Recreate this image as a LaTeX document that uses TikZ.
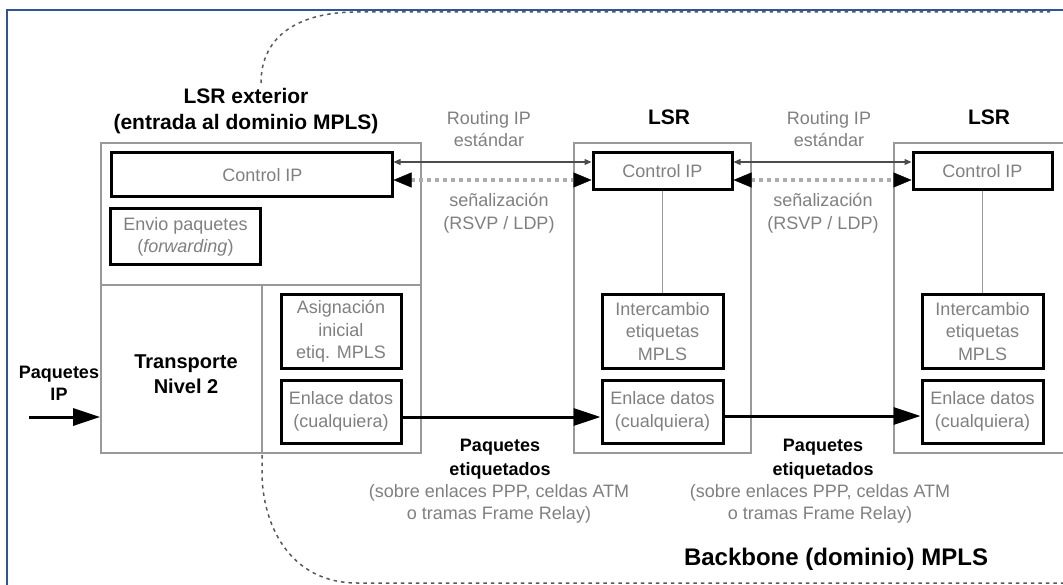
\documentclass[tikz,border=0pt]{standalone}
\usepackage{fontspec}
\setmainfont{Liberation Sans}
\usetikzlibrary{arrows.meta}
\definecolor{framebl}{RGB}{47,85,151}
\definecolor{boxgray}{gray}{0.6}
\definecolor{txtgray}{gray}{0.5}
\definecolor{dashgray}{gray}{0.35}
\definecolor{dotgray}{gray}{0.68}
\newcommand{\fsz}[2]{\fontsize{#1}{#2}\selectfont}

\begin{document}
\begin{tikzpicture}[x=1pt,y=-1pt,
  routerbox/.style={draw=boxgray, line width=1.6pt, inner sep=0pt},
  funcbox/.style={draw=black, line width=3pt, fill=white, text=txtgray,
    font=\fsz{18}{22.5}, align=center, inner sep=0pt},
  titletext/.style={font=\bfseries\fsz{21}{26}, align=center},
  graytext/.style={text=txtgray, font=\fsz{18}{22.5}, align=center},
  boldtext/.style={font=\bfseries\fsz{18}{24}, align=center},
  divider/.style={draw=boxgray, line width=1.6pt},
  datalink/.style={draw=black, line width=3pt, -{Triangle[length=27pt,width=17pt]}},
  routing/.style={draw=black!70, line width=1.2pt,
    {Triangle[length=7pt,width=6pt]}-{Triangle[length=7pt,width=6pt]}},
  signalling/.style={draw=dotgray, line width=4.5pt, dash pattern=on 3.5pt off 4.5pt,
    {Triangle[length=18pt,width=15pt,color=black,line width=0.4pt]}-{Triangle[length=18pt,width=15pt,color=black,line width=0.4pt]}},
  backbone/.style={draw=dashgray, line width=1.5pt, dash pattern=on 3.5pt off 4pt},
  joint/.style={draw=boxgray, line width=1.6pt}
]
\useasboundingbox (0,0) rectangle (1063,585);
\fill[white] (0,0) rectangle (1063,585);
\clip (0,0) rectangle (1063,585);

% page frame
\draw[framebl, line width=2.5pt] (7,600) -- (7,10) -- (1080,10);

% boundary of the MPLS backbone
\draw[backbone] (261,83) .. controls (261,35) and (300,12) .. (357,12) -- (1050,12);
\draw[backbone] (262,455) -- (262,472) .. controls (262,525) and (290,583) .. (357,583) -- (1080,583);

% ingress LSR
\node[routerbox, minimum width=320pt, minimum height=310pt] (lsrA) at (261,298) {};
\draw[divider] (101,285) -- (421,285);
\draw[divider] (262,285) -- (262,453);
\node[funcbox, minimum width=281pt, minimum height=44pt] (cipA) at (251.5,175) {\hspace*{22pt}Control IP};
\node[funcbox, minimum width=150pt, minimum height=56pt] (env) at (185.5,237) {Envio paquetes\\(\textit{forwarding})};
\node[funcbox, minimum width=120pt, minimum height=73pt] (asg) at (341,331.5) {Asignación\\inicial\\etiq. MPLS};
\node[funcbox, minimum width=120pt, minimum height=63pt] (enlA) at (341,411.5) {Enlace datos\\(cualquiera)};
\node[titletext] (ttlA) at (246,111) {LSR exterior\\(entrada al dominio MPLS)};
\node[font=\bfseries\fsz{20}{25}, align=center] (l2) at (186,374) {Transporte\\Nivel 2};

% second LSR
\node[routerbox, minimum width=177pt, minimum height=310pt] (lsrB) at (662.5,298) {};
\node[funcbox, minimum width=139pt, minimum height=37pt] (cipB) at (662.5,171.5) {Control IP};
\node[funcbox, minimum width=121pt, minimum height=73pt] (intB) at (662.5,331.5) {Intercambio\\etiquetas\\MPLS};
\node[funcbox, minimum width=121pt, minimum height=63pt] (enlB) at (662.5,411.5) {Enlace datos\\(cualquiera)};
\node[titletext] (ttlB) at (669,117) {LSR};

% third LSR
\node[routerbox, minimum width=177pt, minimum height=310pt] (lsrC) at (982.5,298) {};
\node[funcbox, minimum width=139pt, minimum height=37pt] (cipC) at (982.5,171.5) {Control IP};
\node[funcbox, minimum width=121pt, minimum height=73pt] (intC) at (982.5,331.5) {Intercambio\\etiquetas\\MPLS};
\node[funcbox, minimum width=121pt, minimum height=63pt] (enlC) at (982.5,411.5) {Enlace datos\\(cualquiera)};
\node[titletext] (ttlC) at (989,117) {LSR};

% control plane to label switching
\draw[joint] (cipB.south) -- (intB.north);
\draw[joint] (cipC.south) -- (intC.north);

% routing and signalling between LSRs
\draw[routing] ([yshift=13pt]cipA.east) -- ([yshift=13pt]cipA.east -| cipB.west);
\draw[signalling] ([yshift=-5pt]cipA.east) -- ([yshift=-5pt]cipA.east -| cipB.west);
\draw[routing] ([yshift=9.5pt]cipB.east) -- ([yshift=9.5pt]cipC.west);
\draw[signalling] ([yshift=-8.5pt]cipB.east) -- ([yshift=-8.5pt]cipC.west);

\node[graytext] (rtA) at (489,129) {Routing IP\\estándar};
\node[graytext] (sgA) at (499,213) {señalización\\(RSVP / LDP)};
\node[graytext] (rtB) at (829,129) {Routing IP\\estándar};
\node[graytext] (sgB) at (823,213) {señalización\\(RSVP / LDP)};

% labelled packet flow
\node[font=\bfseries\fsz{18}{22}, align=center] (inp) at (59,383) {Paquetes\\IP};
\coordinate (src) at (29,417);
\draw[datalink] (src) -- (src -| lsrA.west);
\draw[datalink] ([yshift=-5.5pt]enlA.east) -- ([yshift=-5.5pt]enlA.east -| enlB.west);
\draw[datalink] ([yshift=-4.5pt]enlB.east) -- ([yshift=-4.5pt]enlC.west);

\node[boldtext] (pkA) at (500,459) {Paquetes\\etiquetados};
\node[graytext] (trA) at (499,504) {(sobre enlaces PPP, celdas ATM\\o tramas Frame Relay)};
\node[boldtext] (pkB) at (823,459) {Paquetes\\etiquetados};
\node[graytext] (trB) at (820,504) {(sobre enlaces PPP, celdas ATM\\o tramas Frame Relay)};

\node[font=\bfseries\fsz{24}{28}] (bb) at (836,559) {Backbone (dominio) MPLS};
\end{tikzpicture}
\end{document}
